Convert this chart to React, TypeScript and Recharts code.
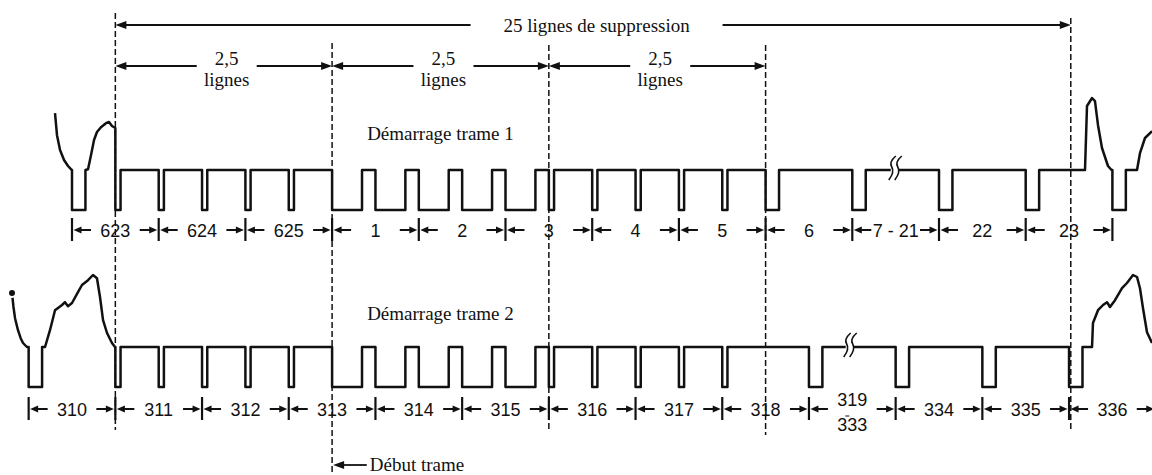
import { ComposedChart, Line, Scatter, XAxis, YAxis, ReferenceLine, ReferenceDot } from "recharts"

const W = 1152
const H = 475

// time in TV lines, 0 = start of line 623 (field 1)
const f1Sync = [0, 8, 9, 10, 11, 12]
const f1Equalizing = [0.5, 1, 1.5, 2, 2.5, 5.5, 6, 6.5, 7, 7.5]
const f1Broad = [3, 3.5, 4, 4.5, 5]
const f2Sync = [-0.5, 8.5, 9.5, 10.5, 11.5]
const f2Equalizing = [0.5, 1, 1.5, 2, 2.5, 5.5, 6, 6.5, 7, 7.5]
const f2Broad = [3, 3.5, 4, 4.5, 5]

// pulse widths, in lines
const SYNC_W = 0.155
const EQ_W = 0.06
const BROAD_W = 0.345

// picture signal around the blanking, [t, level] with 0 = sync tip, 1 = blanking
const f1Video = [
  [[-0.196, 2.42], [-0.173, 1.87], [-0.138, 1.5], [-0.092, 1.25], [-0.046, 1.1], [-0.012, 1.02]],
  [[0.185, 1.02], [0.219, 1.37], [0.254, 1.75], [0.288, 1.95], [0.334, 2.07], [0.392, 2.17], [0.427, 2.2], [0.461, 2.1], [0.5, 2.05]],
  [[11.684, 1], [11.707, 2.6], [11.765, 2.8], [11.799, 2.72], [11.834, 2.12], [11.88, 1.55], [11.949, 1.1], [11.99, 1]],
  [[12.284, 1], [12.318, 1.42], [12.376, 1.8], [12.457, 1.97]],
]
const f2Video = [
  [[-0.692, 2.35], [-0.675, 2.0], [-0.657, 1.72], [-0.623, 1.42], [-0.592, 1.22], [-0.565, 1.1], [-0.52, 1]],
  [[-0.311, 1], [-0.254, 1.42], [-0.219, 1.72], [-0.196, 1.92], [-0.115, 2.05], [-0.081, 2.12], [-0.046, 2.02], [0, 2.1], [0.069, 2.37],
    [0.115, 2.55], [0.185, 2.67], [0.242, 2.8], [0.288, 2.72], [0.323, 2.25], [0.358, 1.67], [0.404, 1.35], [0.461, 1.1], [0.496, 1]],
  [[11.765, 1], [11.776, 1.6], [11.834, 1.92], [11.892, 2.05], [11.938, 2.12], [11.972, 2.0], [12.03, 2.17], [12.111, 2.47],
    [12.168, 2.6], [12.238, 2.8], [12.284, 2.75], [12.318, 2.47], [12.353, 1.97], [12.399, 1.37], [12.457, 1.1]],
]

const topLines = ["623", "624", "625", "1", "2", "3", "4", "5", "6", "7 - 21", "22", "23"]
const topBounds = [0, 1, 2, 3, 4, 5, 6, 7, 8, 9, 10, 11, 12]
const bottomLines = ["310", "311", "312", "313", "314", "315", "316", "317", "318", "319/333", "334", "335", "336"]
const bottomBounds = [-0.5, 0.5, 1.5, 2.5, 3.5, 4.5, 5.5, 6.5, 7.5, 8.5, 9.5, 10.5, 11.5, 12.5]

const guides = [0.5, 3, 5.5, 8, 11.52]
const blanking = [0.5, 11.52]
const halfSpans = [[0.5, 3], [3, 5.5], [5.5, 8]]
const fieldStart = 3
const breaks = { f1: 9.49, f2: 8.97 }

// layout: pixel scale of the picture
const ORIGIN_X = 72
const LINE_PX = 86.7
const LEVEL_PX = 40

type Pt = { t: number; v: number }

const pulse = (s: number, w: number): Pt[] => [
  { t: s, v: 1 },
  { t: s, v: 0 },
  { t: s + w, v: 0 },
  { t: s + w, v: 1 },
]

function buildWave(sync: number[], eq: number[], broad: number[], video: number[][][]): Pt[] {
  const parts: Pt[][] = [
    ...sync.map((s) => pulse(s, SYNC_W)),
    ...eq.map((s) => pulse(s, EQ_W)),
    ...broad.map((s) => pulse(s, BROAD_W)),
    ...video.map((seg) => seg.map(([t, v]) => ({ t, v }))),
  ]
  parts.sort((a, b) => a[0].t - b[0].t)
  return parts.flat()
}

const wave1 = buildWave(f1Sync, f1Equalizing, f1Broad, f1Video)
const wave2 = buildWave(f2Sync, f2Equalizing, f2Broad, f2Video)

const boundaryPts = (b: number[]) => b.map((t, i) => ({ t, v: 0, first: i === 0, last: i === b.length - 1 }))
const labelPts = (b: number[], names: string[]) => names.map((name, i) => ({ t: (b[i] + b[i + 1]) / 2, v: 0, name }))

const INK = "#111"
const SERIF = '"Liberation Serif", "Times New Roman", serif'
const SANS = '"Liberation Sans", Arial, sans-serif'

const head = (x: number, y: number, dir: number, len = 8, hw = 3.5) => (
  <polygon points={`${x},${y} ${x - dir * len},${y - hw} ${x - dir * len},${y + hw}`} fill={INK} />
)

const boundaryShape = (rowY: number) => (p: any) => {
  const { cx, cy, payload } = p
  const y = cy + rowY
  return (
    <g>
      <line x1={cx} y1={y - 12} x2={cx} y2={y + 11} stroke={INK} strokeWidth={2.2} />
      {!payload.first && (
        <g>
          <line x1={cx - 19} y1={y} x2={cx - 7} y2={y} stroke={INK} strokeWidth={2} />
          {head(cx - 1.5, y, 1)}
        </g>
      )}
      {!payload.last && (
        <g>
          <line x1={cx + 7} y1={y} x2={cx + 19} y2={y} stroke={INK} strokeWidth={2} />
          {head(cx + 1.5, y, -1)}
        </g>
      )}
    </g>
  )
}

const labelShape = (rowY: number) => (p: any) => {
  const { cx, cy, payload } = p
  const parts = payload.name.split("/")
  const y = cy + rowY
  const style = { fontFamily: SANS, fontSize: 18, fill: INK }
  if (parts.length === 1) {
    return <text x={cx} y={y + 6.5} textAnchor="middle" {...style}>{parts[0]}</text>
  }
  return (
    <g>
      <text x={cx} y={y - 3} textAnchor="middle" {...style}>{parts[0]}</text>
      <line x1={cx - 7} y1={y + 7} x2={cx - 3} y2={y + 7} stroke={INK} strokeWidth={1} />
      <text x={cx} y={y + 22} textAnchor="middle" {...style}>{parts[1]}</text>
    </g>
  )
}

const spanShape = (texts: string[], gap: number, shift: number) => (p: any) => {
  const { x1, x2, y1 } = p
  const mid = (x1 + x2) / 2 + shift
  const style = { fontFamily: SERIF, fontSize: 19, fill: INK }
  return (
    <g>
      <line x1={x1 + 6} y1={y1} x2={mid - gap} y2={y1} stroke={INK} strokeWidth={1.8} />
      <line x1={mid + gap} y1={y1} x2={x2 - 6} y2={y1} stroke={INK} strokeWidth={1.8} />
      {head(x1, y1, -1, 11, 4)}
      {head(x2, y1, 1, 11, 4)}
      {texts.length === 1 ? (
        <text x={mid} y={y1 + 6.5} textAnchor="middle" {...style}>{texts[0]}</text>
      ) : (
        texts.map((s, i) => (
          <text key={i} x={mid} y={y1 - 1 + i * 21} textAnchor="middle" {...style}>{s}</text>
        ))
      )}
    </g>
  )
}

const startShape = (p: any) => {
  const { x1, x2, y1 } = p
  return (
    <g>
      <line x1={x1 + 6} y1={y1} x2={x2} y2={y1} stroke={INK} strokeWidth={1.8} />
      {head(x1 + 1, y1, -1, 11, 4)}
      <text x={x2 + 3} y={y1 + 5.5} fontFamily={SERIF} fontSize={19} fill={INK}>Début trame</text>
    </g>
  )
}

const textShape = (s: string) => (p: any) => (
  <text x={p.cx} y={p.cy} textAnchor="middle" fontFamily={SERIF} fontSize={19} fill={INK}>{s}</text>
)

const breakShape = (p: any) => {
  const { cx, cy } = p
  const s = (dx: number) =>
    `M ${cx + dx + 4} ${cy - 14} Q ${cx + dx - 3} ${cy - 8} ${cx + dx} ${cy - 3} Q ${cx + dx + 3} ${cy + 2} ${cx + dx - 3} ${cy + 10}`
  return (
    <g>
      <rect x={cx - 4} y={cy - 3} width={8} height={6} fill="#fff" />
      <path d={s(-3)} fill="none" stroke={INK} strokeWidth={1.6} />
      <path d={s(3)} fill="none" stroke={INK} strokeWidth={1.6} />
    </g>
  )
}

// vertical extents of the dashed guides, in pixels
const guideSpan = [[13, 430], [43, 475], [45, 432], [45, 435], [18, 432]]

export default function App() {
  const xDomain = [-ORIGIN_X / LINE_PX, (W - ORIGIN_X) / LINE_PX]
  const f1Domain = [(210 - H) / LEVEL_PX, 210 / LEVEL_PX]
  const f2Domain = [(387 - H) / LEVEL_PX, 387 / LEVEL_PX]

  return (
    <div style={{ position: "absolute", left: 0, top: 0, width: W, height: H, background: "#fff" }}>
      <ComposedChart width={W} height={H} margin={{ top: 0, right: 0, bottom: 0, left: 0 }}>
        <XAxis type="number" dataKey="t" domain={xDomain} allowDataOverflow hide />
        <YAxis yAxisId="f1" type="number" dataKey="v" domain={f1Domain} allowDataOverflow hide />
        <YAxis yAxisId="f2" type="number" dataKey="v" domain={f2Domain} allowDataOverflow hide />
        <YAxis yAxisId="px" type="number" domain={[0, H]} reversed allowDataOverflow hide />

        {guides.map((t, i) => (
          <ReferenceLine
            key={`g${i}`}
            yAxisId="px"
            ifOverflow="visible"
            segment={[{ x: t, y: guideSpan[i][0] }, { x: t, y: guideSpan[i][1] }]}
            stroke={INK}
            strokeWidth={1.5}
            strokeDasharray="6 3"
          />
        ))}

        <ReferenceLine
          yAxisId="px"
          ifOverflow="visible"
          segment={[{ x: blanking[0], y: 25 }, { x: blanking[1], y: 25 }]}
          shape={spanShape(["25 lignes de suppression"], 126, 3.5)}
        />
        {halfSpans.map(([a, b], i) => (
          <ReferenceLine
            key={`h${i}`}
            yAxisId="px"
            ifOverflow="visible"
            segment={[{ x: a, y: 66 }, { x: b, y: 66 }]}
            shape={spanShape(["2,5", "lignes"], 30, 3)}
          />
        ))}
        <ReferenceLine
          yAxisId="px"
          ifOverflow="visible"
          segment={[{ x: fieldStart, y: 465 }, { x: fieldStart + 0.4, y: 465 }]}
          shape={startShape}
        />

        <ReferenceDot yAxisId="px" x={(f1Broad[0] + f2Equalizing[5]) / 2} y={140} ifOverflow="visible" shape={textShape("Démarrage trame 1")} />
        <ReferenceDot yAxisId="px" x={(f1Broad[0] + f2Equalizing[5]) / 2} y={320} ifOverflow="visible" shape={textShape("Démarrage trame 2")} />

        <Line yAxisId="f1" data={wave1} dataKey="v" type="linear" stroke={INK} strokeWidth={2.5} strokeLinejoin="round" dot={false} isAnimationActive={false} />
        <Line yAxisId="f2" data={wave2} dataKey="v" type="linear" stroke={INK} strokeWidth={2.5} strokeLinejoin="round" dot={false} isAnimationActive={false} />

        <ReferenceDot yAxisId="f1" x={breaks.f1} y={1} ifOverflow="visible" shape={breakShape} />
        <ReferenceDot yAxisId="f2" x={breaks.f2} y={1} ifOverflow="visible" shape={breakShape} />

        <Scatter yAxisId="f1" data={boundaryPts(topBounds)} shape={boundaryShape(20)} isAnimationActive={false} />
        <Scatter yAxisId="f1" data={labelPts(topBounds, topLines)} shape={labelShape(20)} isAnimationActive={false} />
        <Scatter yAxisId="f2" data={boundaryPts(bottomBounds)} shape={boundaryShape(22)} isAnimationActive={false} />
        <Scatter yAxisId="f2" data={labelPts(bottomBounds, bottomLines)} shape={labelShape(22)} isAnimationActive={false} />
      </ComposedChart>
    </div>
  )
}
